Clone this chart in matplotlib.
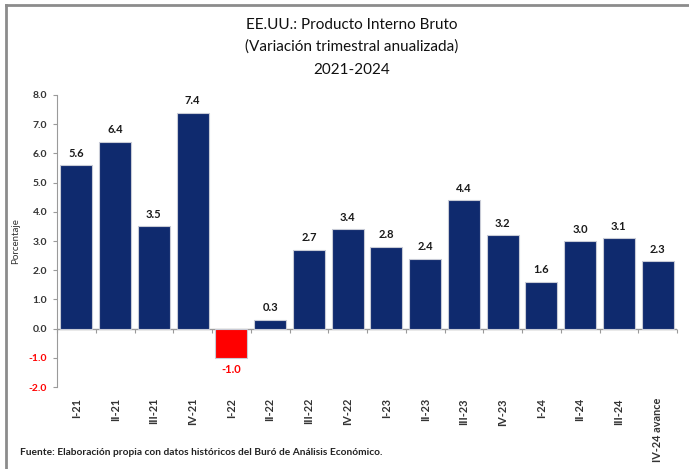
import matplotlib.pyplot as plt
from matplotlib.lines import Line2D

# Trimestres y variación anualizada del PIB (%)
trimestres = ['I-21', 'II-21', 'III-21', 'IV-21', 'I-22', 'II-22', 'III-22', 'IV-22',
              'I-23', 'II-23', 'III-23', 'IV-23', 'I-24', 'II-24', 'III-24', 'IV-24 avance']
variacion = [5.6, 6.4, 3.5, 7.4, -1.0, 0.3, 2.7, 3.4,
             2.8, 2.4, 4.4, 3.2, 1.6, 3.0, 3.1, 2.3]
marcas_y = [-2.0, -1.0, 0.0, 1.0, 2.0, 3.0, 4.0, 5.0, 6.0, 7.0, 8.0]

azul = '#0f2a6e'
rojo = '#ff0000'
fuente = ['Lato', 'DejaVu Sans']
plt.rcParams['font.family'] = fuente

fig = plt.figure(figsize=(6.89, 4.69), dpi=100)
ax = fig.add_axes([57 / 689, 82 / 469, 620 / 689, 292 / 469])

x = list(range(len(trimestres)))
colores = [rojo if v < 0 else azul for v in variacion]
ax.bar(x, variacion, width=0.83, color=colores, edgecolor='#c8cbd6', linewidth=0.8, zorder=2)

# Etiquetas de valor sobre (o bajo) cada barra
for xi, v in zip(x, variacion):
    if v < 0:
        ax.text(xi, v - 0.22, f'{v:.1f}', ha='center', va='top', fontsize=8,
                fontweight='bold', color=rojo)
    else:
        ax.text(xi, v + 0.22, f'{v:.1f}', ha='center', va='bottom', fontsize=8,
                fontweight='bold', color='#1a1a1a')

ax.set_xlim(-0.5, len(trimestres) - 0.5)
ax.set_ylim(-2.0, 8.0)
ax.set_yticks(marcas_y)
ax.set_yticklabels([f'{m:.1f}' for m in marcas_y], fontsize=7.5, fontweight='bold')
for etiqueta, m in zip(ax.get_yticklabels(), marcas_y):
    etiqueta.set_color(rojo if m < 0 else '#333333')
ax.tick_params(axis='y', length=3, color='#9a9a9a', pad=4)

ax.set_xticks(x)
ax.set_xticklabels(trimestres, rotation=90, fontsize=7.8, fontweight='bold', color='#333333',
                   va='top')
ax.tick_params(axis='x', length=0, pad=8)

for lado in ['top', 'right', 'bottom']:
    ax.spines[lado].set_visible(False)
ax.spines['left'].set_color('#9a9a9a')

# Línea del cero con marcas entre categorías
ax.axhline(0, color='#9a9a9a', linewidth=1, zorder=1)
eje_cero = ax.secondary_xaxis(0.2)
eje_cero.set_xticks([i - 0.5 for i in range(len(trimestres) + 1)])
eje_cero.set_xticklabels([])
eje_cero.tick_params(length=3, color='#9a9a9a', direction='out')
eje_cero.spines['bottom'].set_visible(False)

ax.set_ylabel('Porcentaje', fontsize=7, color='#333333', labelpad=6)

fig.text(0.511, 1 - 25 / 469, 'EE.UU.: Producto Interno Bruto', ha='center', va='center',
         fontsize=11, color='#111111')
fig.text(0.511, 1 - 47 / 469, '(Variación trimestral anualizada)', ha='center', va='center',
         fontsize=11, color='#111111')
fig.text(0.511, 1 - 70 / 469, '2021-2024', ha='center', va='center',
         fontsize=11, color='#111111')
fig.text(20 / 689, 1 - 452 / 469,
         'Fuente: Elaboración propia con datos históricos del Buró de Análisis Económico.',
         ha='left', va='center', fontsize=7.3, fontweight='bold', color='#222222')

# Marco gris exterior
fig.add_artist(Line2D([6 / 689, 6 / 689], [0, 1 - 5 / 469], color='#8c8c8c', linewidth=2))
fig.add_artist(Line2D([6 / 689, 1], [1 - 5 / 469, 1 - 5 / 469], color='#8c8c8c', linewidth=2))

fig.savefig('out.png', dpi=100)
